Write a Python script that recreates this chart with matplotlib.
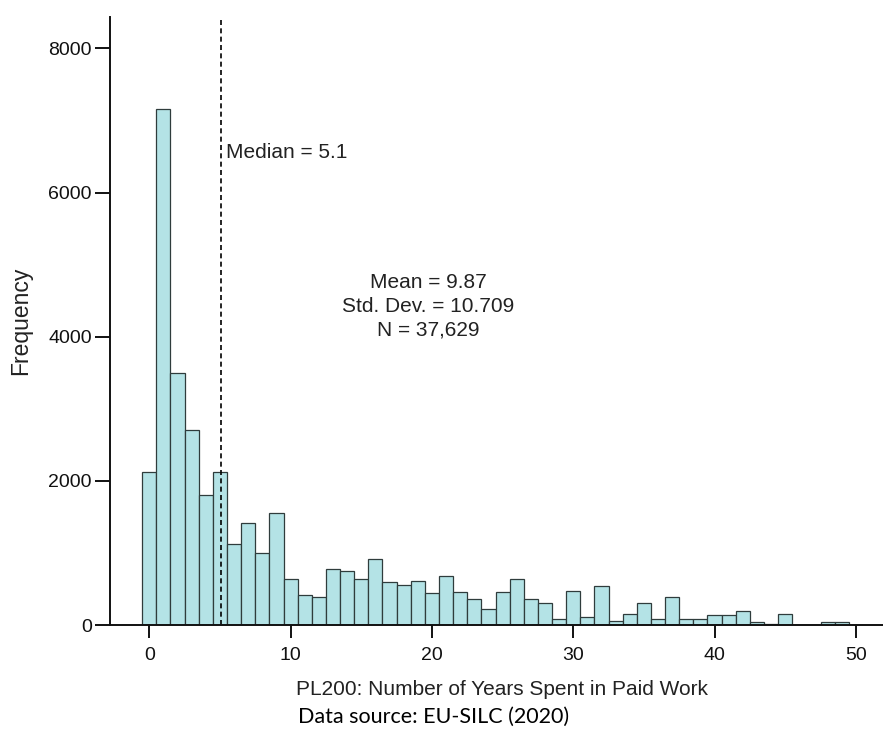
import matplotlib.pyplot as plt

# PL200 histogram, EU-SILC 2020
years = list(range(0, 51))
counts = [2120, 7160, 3490, 2700, 1800, 2120, 1120, 1415, 1000, 1555,
          640, 415, 395, 778, 755, 635, 920, 600, 555, 615,
          440, 685, 460, 355, 220, 460, 635, 355, 300, 80,
          475, 115, 540, 60, 155, 300, 80, 385, 80, 85,
          140, 140, 200, 40, 15, 155, 0, 0, 35, 35,
          0]
median = 5.1
stats_text = "Mean = 9.87\nStd. Dev. = 10.709\nN = 37,629"

plt.rcParams['font.family'] = ['Liberation Sans', 'DejaVu Sans']

fig = plt.figure(figsize=(8.83, 7.42), dpi=100)
ax = fig.add_axes([110 / 883, 117 / 742, 773 / 883, 608 / 742])

ax.bar(years, counts, width=1.0, color='#b4e3e6', edgecolor='#2f3c3c',
       linewidth=0.9)
ax.axvline(median, color='black', linestyle=(0, (3, 2)), linewidth=1.2)

ax.text(5.43, 6560, "Median = 5.1", fontsize=15, va='center', ha='left',
        color='#222222')
ax.text(19.72, 4420, stats_text, fontsize=15, va='center', ha='center',
        linespacing=1.3, color='#222222')

ax.set_xlim(-2.78, 51.92)
ax.set_ylim(0, 8435)
ax.set_xticks([0, 10, 20, 30, 40, 50])
ax.set_yticks([0, 2000, 4000, 6000, 8000])

for side in ['top', 'right']:
    ax.spines[side].set_visible(False)
for side in ['left', 'bottom']:
    ax.spines[side].set_linewidth(1.4)
    ax.spines[side].set_color('#111111')

ax.tick_params(axis='y', length=11, width=1.4, pad=2, labelsize=14,
               colors='#111111')
ax.tick_params(axis='x', length=9, width=1.4, pad=7, labelsize=14,
               colors='#111111')

ax.set_ylabel("Frequency", fontsize=16.5, color='#222222', labelpad=12)
ax.set_xlabel("PL200: Number of Years Spent in Paid Work", fontsize=15,
              color='#222222')
ax.xaxis.set_label_coords(0.507, -0.09)

fig.text(434 / 883, 1 - 717 / 742, "Data source: EU-SILC (2020)",
         fontsize=15.5, family=['Lato', 'DejaVu Sans'], ha='center',
         va='center', color='black')

fig.savefig('out.png', dpi=100)
